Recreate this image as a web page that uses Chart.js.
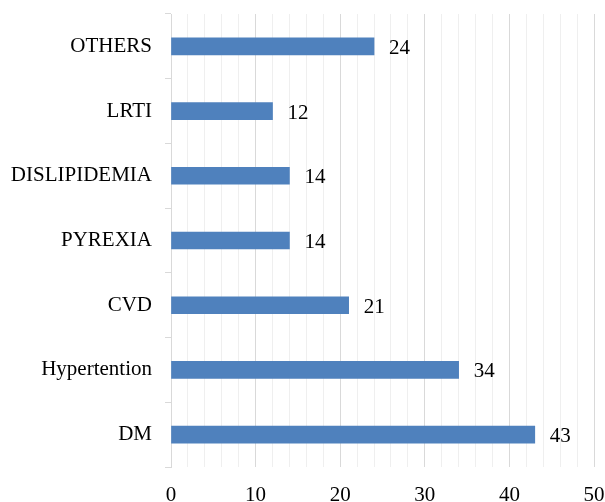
<!DOCTYPE html>
<html>
<head>
<meta charset="utf-8">
<script src="https://cdn.jsdelivr.net/npm/chart.js@4.4.1/dist/chart.umd.min.js"></script>
<style>
  html, body { margin: 0; padding: 0; background: #fff; }
  #wrap { width: 605px; height: 502px; }
</style>
</head>
<body>
<div id="wrap"><canvas id="BarChart"></canvas></div>
<script>
// categories top to bottom, as in the picture
const categories = ['OTHERS', 'LRTI', 'DISLIPIDEMIA', 'PYREXIA', 'CVD', 'Hypertention', 'DM'];
const patientCounts = [24, 12, 14, 14, 21, 34, 43];
const xTicks = [0, 10, 20, 30, 40, 50];

const serif = "'Liberation Serif', 'Times New Roman', serif";

// draws the value to the right of each bar
const valueLabels = {
  id: 'valueLabels',
  afterDatasetsDraw(chart) {
    const ctx = chart.ctx;
    const meta = chart.getDatasetMeta(0);
    ctx.save();
    ctx.font = '21px ' + serif;
    ctx.fillStyle = '#000';
    ctx.textBaseline = 'middle';
    ctx.textAlign = 'left';
    meta.data.forEach((bar, i) => {
      ctx.fillText(patientCounts[i], bar.x + 15, bar.y + 2);
    });
    ctx.restore();
  }
};

const ctx = document.getElementById('BarChart').getContext('2d');
new Chart(ctx, {
  type: 'bar',
  data: {
    labels: categories,
    datasets: [{
      data: patientCounts,
      backgroundColor: '#4f81bd',
      borderWidth: 0,
      barThickness: 17
    }]
  },
  options: {
    indexAxis: 'y',
    responsive: true,
    maintainAspectRatio: false,
    animation: false,
    layout: { padding: { top: 14, right: 11, left: 0, bottom: 0 } },
    plugins: {
      legend: { display: false },
      tooltip: { enabled: false }
    },
    scales: {
      x: {
        min: 0,
        max: 50,
        ticks: {
          stepSize: 2,
          autoSkip: false,
          maxRotation: 0,
          padding: 16,
          color: '#000',
          font: { family: serif, size: 21 },
          callback: v => xTicks.includes(v) ? v : ''
        },
        grid: {
          drawTicks: false,
          lineWidth: 1,
          color: c => (c.tick && c.tick.value % 10 === 0) ? '#d9d9d9' : '#efefef'
        },
        border: { display: false },
        afterFit: s => {
          s.height = 35;
          s.paddingLeft = 0;
          s.paddingRight = 0;
        }
      },
      y: {
        ticks: {
          padding: 13,
          color: '#000',
          font: { family: serif, size: 21 }
        },
        grid: {
          drawOnChartArea: false,
          drawTicks: true,
          tickLength: 6,
          color: '#d9d9d9'
        },
        border: { display: true, color: '#d9d9d9' },
        afterFit: s => {
          s.width = 171;
          s.paddingTop = 0;
          s.paddingBottom = 0;
        }
      }
    }
  },
  plugins: [valueLabels]
});
</script>
</body>
</html>
